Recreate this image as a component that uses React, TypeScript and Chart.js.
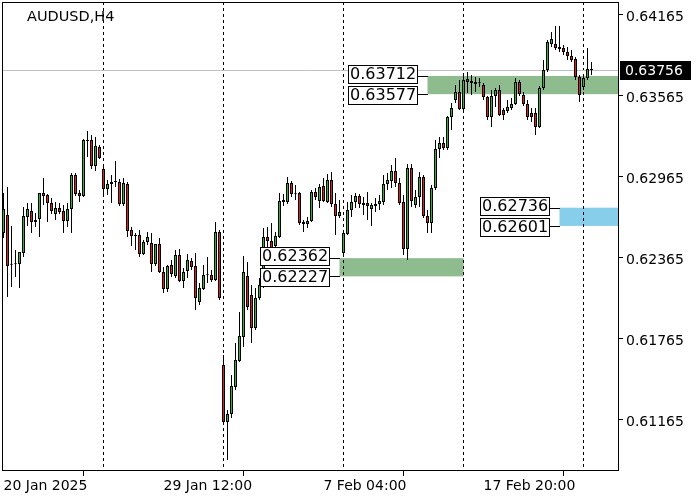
import React, { useEffect, useRef } from "react";
import { Chart, registerables } from "chart.js";

Chart.register(...registerables);

const chartTitle = "AUDUSD,H4";

const opens = [
  0.62549, 0.62682, 0.62318, 0.62318, 0.62318, 0.62401, 0.62667, 0.62712, 0.6263, 0.62652,
  0.62845, 0.6283, 0.62771, 0.62689, 0.62734, 0.62712, 0.62638, 0.62726, 0.62978, 0.62845,
  0.62823, 0.63231, 0.63238, 0.63045, 0.63186, 0.63022, 0.62874, 0.62911, 0.62926, 0.62926,
  0.62763, 0.62911, 0.62571, 0.62534, 0.62534, 0.62393, 0.62482, 0.62475, 0.62318, 0.62467,
  0.62259, 0.62133, 0.62311, 0.6223, 0.62386, 0.62193, 0.62267, 0.62341, 0.62304, 0.62037,
  0.62133, 0.62237, 0.62237, 0.622, 0.62556, 0.6157, 0.61148, 0.61207, 0.61407, 0.616,
  0.61778, 0.6223, 0.62089, 0.61845, 0.62067, 0.62163, 0.62519, 0.62489, 0.62453, 0.62519,
  0.62793, 0.62778, 0.62919, 0.62837, 0.62845, 0.6263, 0.62615, 0.62638, 0.62852, 0.62786,
  0.62897, 0.62778, 0.62941, 0.62763, 0.62675, 0.62401, 0.62541, 0.62719, 0.62778, 0.62823,
  0.62771, 0.62771, 0.62726, 0.62749, 0.62763, 0.62778, 0.62911, 0.62934, 0.63008, 0.62919,
  0.62778, 0.6243, 0.6303, 0.62756, 0.62816, 0.62963, 0.62675, 0.62623, 0.62882, 0.63171,
  0.63216, 0.63179, 0.63408, 0.63534, 0.63593, 0.63467, 0.6369, 0.63675, 0.63667, 0.6366,
  0.63645, 0.63556, 0.63408, 0.63564, 0.63608, 0.6346, 0.63453, 0.63475, 0.63504, 0.63667,
  0.63571, 0.63504, 0.63438, 0.63438, 0.63334, 0.63623, 0.63756, 0.63949, 0.63949, 0.63927,
  0.63919, 0.6389, 0.6386, 0.63838, 0.63704, 0.6363, 0.63697, 0.63756,
];

const highs = [
  0.62845, 0.62889, 0.62601, 0.62423, 0.62408, 0.62741, 0.62771, 0.62771, 0.62697, 0.62845,
  0.62956, 0.62837, 0.62808, 0.62778, 0.62771, 0.62756, 0.62771, 0.62993, 0.62993, 0.62867,
  0.63245, 0.63305, 0.63275, 0.6326, 0.63201, 0.63059, 0.62941, 0.62978, 0.63082, 0.62948,
  0.62956, 0.62926, 0.62593, 0.62549, 0.62571, 0.62497, 0.62556, 0.62549, 0.62467, 0.62512,
  0.62296, 0.62311, 0.62348, 0.62423, 0.6243, 0.62289, 0.62393, 0.62363, 0.62401, 0.62178,
  0.62311, 0.62371, 0.62274, 0.6263, 0.62571, 0.61644, 0.61237, 0.61496, 0.61734, 0.61963,
  0.62378, 0.62334, 0.62163, 0.62141, 0.62215, 0.62586, 0.62593, 0.62623, 0.62556, 0.62845,
  0.62837, 0.62963, 0.62934, 0.62904, 0.62852, 0.62645, 0.62667, 0.62867, 0.62882, 0.62911,
  0.62956, 0.62985, 0.63, 0.62845, 0.62793, 0.62571, 0.62778, 0.6283, 0.62845, 0.62837,
  0.62816, 0.62852, 0.62771, 0.62808, 0.6283, 0.62978, 0.62993, 0.63052, 0.63104, 0.62956,
  0.6283, 0.63059, 0.63059, 0.62867, 0.63, 0.62978, 0.62719, 0.62904, 0.63238, 0.6326,
  0.6326, 0.63415, 0.63512, 0.63645, 0.63682, 0.63734, 0.63741, 0.63719, 0.63704, 0.63697,
  0.6366, 0.63564, 0.63608, 0.63623, 0.63645, 0.63475, 0.63534, 0.63549, 0.63697, 0.63682,
  0.63593, 0.63534, 0.63475, 0.63475, 0.63638, 0.6383, 0.63979, 0.64038, 0.64082, 0.64082,
  0.63942, 0.63927, 0.63905, 0.63853, 0.63719, 0.63712, 0.63919, 0.63816,
];

const lows = [
  0.62512, 0.62074, 0.62148, 0.62222, 0.62141, 0.62371, 0.62601, 0.62549, 0.62593, 0.62519,
  0.62756, 0.6263, 0.62689, 0.62645, 0.62689, 0.62549, 0.62593, 0.62549, 0.62823, 0.62778,
  0.62816, 0.63112, 0.63022, 0.63008, 0.63097, 0.6283, 0.6283, 0.62771, 0.62889, 0.62749,
  0.62749, 0.62519, 0.62453, 0.62423, 0.62371, 0.62386, 0.6246, 0.62259, 0.62304, 0.62252,
  0.62104, 0.62111, 0.62222, 0.62215, 0.62185, 0.62141, 0.62215, 0.62274, 0.61978, 0.62015,
  0.62126, 0.62178, 0.62185, 0.62193, 0.62052, 0.61141, 0.60866, 0.61178, 0.61385, 0.61593,
  0.61704, 0.61978, 0.61734, 0.6183, 0.62052, 0.62141, 0.62445, 0.62408, 0.62423, 0.62512,
  0.62749, 0.62763, 0.62816, 0.62793, 0.62608, 0.62556, 0.62586, 0.6263, 0.62793, 0.62734,
  0.62778, 0.62771, 0.62741, 0.62534, 0.6266, 0.62386, 0.62534, 0.62667, 0.62734, 0.62734,
  0.62682, 0.62645, 0.62601, 0.62704, 0.62719, 0.62756, 0.62867, 0.62882, 0.62889, 0.62756,
  0.62386, 0.62348, 0.62741, 0.62734, 0.62741, 0.6266, 0.62549, 0.62549, 0.62867, 0.63104,
  0.63164, 0.63164, 0.63312, 0.63512, 0.6346, 0.6346, 0.63586, 0.63571, 0.63593, 0.6363,
  0.63534, 0.63386, 0.63334, 0.63482, 0.63416, 0.63386, 0.63438, 0.6346, 0.63497, 0.63564,
  0.6349, 0.63386, 0.63371, 0.63275, 0.63327, 0.63608, 0.63741, 0.63927, 0.63905, 0.6389,
  0.63868, 0.6383, 0.63816, 0.63682, 0.63519, 0.63608, 0.63682, 0.63719,
];

const closes = [
  0.62726, 0.62304, 0.62314, 0.62316, 0.62408, 0.62675, 0.62726, 0.6263, 0.62645, 0.62845,
  0.62823, 0.62771, 0.62712, 0.62734, 0.62704, 0.62638, 0.62726, 0.62978, 0.62837, 0.62823,
  0.63238, 0.63238, 0.63045, 0.63194, 0.63104, 0.62874, 0.62911, 0.62926, 0.62926, 0.62763,
  0.62919, 0.62564, 0.62527, 0.62527, 0.62393, 0.62482, 0.62519, 0.62318, 0.62467, 0.62259,
  0.62133, 0.62304, 0.62244, 0.62386, 0.62193, 0.62259, 0.62348, 0.62296, 0.62067, 0.62141,
  0.62237, 0.62235, 0.622, 0.62556, 0.62067, 0.61148, 0.61207, 0.61415, 0.61607, 0.61785,
  0.62259, 0.62, 0.61845, 0.62067, 0.62163, 0.62519, 0.62489, 0.6243, 0.62527, 0.62786,
  0.62778, 0.62919, 0.62837, 0.62835, 0.62623, 0.62615, 0.62638, 0.62852, 0.62816, 0.62889,
  0.62786, 0.62941, 0.62763, 0.62675, 0.62704, 0.62549, 0.62719, 0.62778, 0.62823, 0.62763,
  0.62756, 0.62749, 0.62756, 0.62763, 0.62786, 0.62911, 0.62941, 0.63008, 0.62919, 0.62771,
  0.6243, 0.6303, 0.62786, 0.62816, 0.62963, 0.62675, 0.62623, 0.62882, 0.63171, 0.63216,
  0.63179, 0.63408, 0.63475, 0.63593, 0.63467, 0.63682, 0.63667, 0.6366, 0.63653, 0.63658,
  0.63556, 0.63408, 0.63564, 0.63608, 0.63423, 0.63423, 0.63482, 0.63504, 0.63667, 0.63578,
  0.63504, 0.63408, 0.63408, 0.63334, 0.63623, 0.63756, 0.63964, 0.63986, 0.63919, 0.63912,
  0.6389, 0.6386, 0.6383, 0.63704, 0.63571, 0.63697, 0.63764, 0.63756,
];

const xTickIndex = [0, 40, 80, 120];
const xTickLabels = ["20 Jan 2025", "29 Jan 12:00", "7 Feb 04:00", "17 Feb 20:00"];
const separatorIndex = [25, 55, 85, 115, 145];
const yTickValues = [0.61165, 0.61765, 0.62365, 0.62965, 0.63565, 0.64165];

const zoneHigh = [0.63712, 0.62362, 0.62736];
const zoneLow = [0.63577, 0.62227, 0.62601];
const zoneStart = [106, 84, 139];
const zoneEnd: (number | null)[] = [null, 115, null];
const zoneColors = ["#8fbc8f", "#8fbc8f", "#87ceeb"];

const UP = "#32b432";
const DOWN = "#dc1e1e";
const FONT = '"DejaVu Sans"';

export default function App() {
  const ref = useRef<HTMLCanvasElement | null>(null);

  useEffect(() => {
    const canvas = ref.current;
    if (!canvas) return;
    const idx = opens.map((_, i) => i);
    const bodies = idx.map((i) => ({ x: i, y: [opens[i], closes[i]] }));
    const wicks = idx.map((i) => ({ x: i, y: [lows[i], highs[i]] }));
    const bodyColors = idx.map((i) =>
      closes[i] > opens[i] ? UP : closes[i] < opens[i] ? DOWN : "#000"
    );
    const lastPrice = closes[closes.length - 1];

    const overlay = {
      id: "overlay",
      beforeDatasetsDraw(chart: any) {
        const { ctx, chartArea: a, scales } = chart;
        const xs = scales.x;
        const ys = scales.y;
        ctx.save();
        ctx.beginPath();
        ctx.rect(a.left, a.top, a.right - a.left, a.bottom - a.top);
        ctx.clip();
        for (let k = 0; k < zoneHigh.length; k++) {
          const x0 = xs.getPixelForValue(zoneStart[k]);
          const e = zoneEnd[k];
          const x1 = e === null ? a.right : xs.getPixelForValue(e);
          const y0 = ys.getPixelForValue(zoneHigh[k]);
          const y1 = ys.getPixelForValue(zoneLow[k]);
          ctx.fillStyle = zoneColors[k];
          ctx.fillRect(x0, y0, x1 - x0, y1 - y0);
        }
        ctx.strokeStyle = "#000";
        ctx.lineWidth = 1;
        ctx.setLineDash([3, 3]);
        for (const s of separatorIndex) {
          const px = Math.floor(xs.getPixelForValue(s)) + 0.5;
          ctx.beginPath();
          ctx.moveTo(px, a.top);
          ctx.lineTo(px, a.bottom);
          ctx.stroke();
        }
        ctx.setLineDash([]);
        const py = Math.round(ys.getPixelForValue(lastPrice)) + 0.5;
        ctx.strokeStyle = "#c0c0c0";
        ctx.beginPath();
        ctx.moveTo(a.left, py);
        ctx.lineTo(a.right, py);
        ctx.stroke();
        ctx.restore();
      },
      afterDatasetsDraw(chart: any) {
        const { ctx, chartArea: a, scales } = chart;
        const xs = scales.x;
        const ys = scales.y;
        ctx.save();
        ctx.font = `16px ${FONT}`;
        ctx.textBaseline = "middle";
        ctx.textAlign = "left";
        for (let k = 0; k < zoneHigh.length; k++) {
          const x0 = Math.round(xs.getPixelForValue(zoneStart[k]));
          const yh = Math.round(ys.getPixelForValue(zoneHigh[k]));
          const yl = Math.round(ys.getPixelForValue(zoneLow[k]));
          const tHi = zoneHigh[k].toFixed(5);
          const tLo = zoneLow[k].toFixed(5);
          const w = Math.round(Math.max(ctx.measureText(tHi).width, ctx.measureText(tLo).width)) + 4;
          const bx = x0 - 10 - w;
          const boxes = [
            { t: tHi, top: yh - 11, lvl: yh },
            { t: tLo, top: yl - 8, lvl: yl },
          ];
          for (const b of boxes) {
            ctx.fillStyle = "#fff";
            ctx.fillRect(bx, b.top, w, 19);
            ctx.strokeStyle = "#000";
            ctx.lineWidth = 1;
            ctx.strokeRect(bx + 0.5, b.top + 0.5, w - 1, 18);
            ctx.fillStyle = "#000";
            ctx.fillText(b.t, bx + 2, b.top + 10);
            ctx.beginPath();
            ctx.moveTo(bx + w, b.lvl + 0.5);
            ctx.lineTo(x0, b.lvl + 0.5);
            ctx.stroke();
          }
        }
        ctx.strokeStyle = "#000";
        ctx.lineWidth = 1;
        ctx.strokeRect(a.left + 0.5, a.top + 0.5, a.right - a.left - 1, a.bottom - a.top - 1);
        ctx.fillStyle = "#000";
        ctx.font = `14.5px ${FONT}`;
        ctx.textBaseline = "top";
        ctx.fillText(chartTitle, 27, 10);
        const py = Math.round(ys.getPixelForValue(lastPrice));
        ctx.fillStyle = "#000";
        ctx.fillRect(a.right + 1, py - 9, 71, 19);
        ctx.fillStyle = "#fff";
        ctx.font = `14px ${FONT}`;
        ctx.textBaseline = "middle";
        ctx.fillText(lastPrice.toFixed(5), a.right + 6, py + 1);
        ctx.restore();
      },
    };

    const chart = new Chart(canvas, {
      type: "bar",
      data: {
        datasets: [
          {
            data: bodies as any,
            backgroundColor: bodyColors,
            borderColor: "#000",
            borderWidth: 1,
            borderSkipped: false,
            barPercentage: 1,
            categoryPercentage: 1,
            barThickness: 3,
            maxBarThickness: 3,
            minBarLength: 1,
            grouped: false,
            inflateAmount: 0,
          } as any,
          {
            data: wicks as any,
            backgroundColor: "#000",
            borderWidth: 0,
            barPercentage: 1,
            categoryPercentage: 1,
            barThickness: 1,
            maxBarThickness: 1,
            grouped: false,
            inflateAmount: 0,
          } as any,
        ],
      },
      options: {
        animation: false,
        responsive: false,
        devicePixelRatio: 1,
        layout: { padding: { left: 2, top: 2, right: 0, bottom: 0 } },
        plugins: { legend: { display: false }, tooltip: { enabled: false } },
        scales: {
          x: {
            type: "linear",
            min: -0.375,
            max: 153.875,
            offset: false,
            grid: { drawOnChartArea: false, drawTicks: true, tickLength: 5, color: "#000" },
            border: { display: false },
            afterBuildTicks: (s: any) => {
              s.ticks = xTickIndex.map((v) => ({ value: v }));
            },
            afterFit: (s: any) => {
              s.height = 29;
              s.paddingLeft = 0;
              s.paddingRight = 0;
            },
            ticks: {
              autoSkip: false,
              maxRotation: 0,
              align: "start",
              padding: 2,
              color: "#000",
              font: { family: FONT, size: 14 },
              callback: (v: any) => {
                const k = xTickIndex.indexOf(Number(v));
                return k >= 0 ? xTickLabels[k] : "";
              },
            },
          },
          y: {
            type: "linear",
            position: "right",
            min: 0.60785,
            max: 0.6426,
            grid: { drawOnChartArea: false, drawTicks: true, tickLength: 4, color: "#000" },
            border: { display: false },
            afterBuildTicks: (s: any) => {
              s.ticks = yTickValues.map((v) => ({ value: v }));
            },
            afterFit: (s: any) => {
              s.width = 81;
              s.paddingTop = 0;
              s.paddingBottom = 0;
            },
            ticks: {
              padding: 3,
              labelOffset: 3,
              color: "#000",
              font: { family: FONT, size: 14 },
              callback: (v: any) => Number(v).toFixed(5),
            },
          },
        },
      },
      plugins: [overlay],
    });
    return () => chart.destroy();
  }, []);

  return (
    <div style={{ position: "absolute", left: 0, top: 0, width: 700, height: 500, background: "#fff" }}>
      <canvas ref={ref} width={700} height={500} style={{ width: 700, height: 500, display: "block" }} />
    </div>
  );
}
